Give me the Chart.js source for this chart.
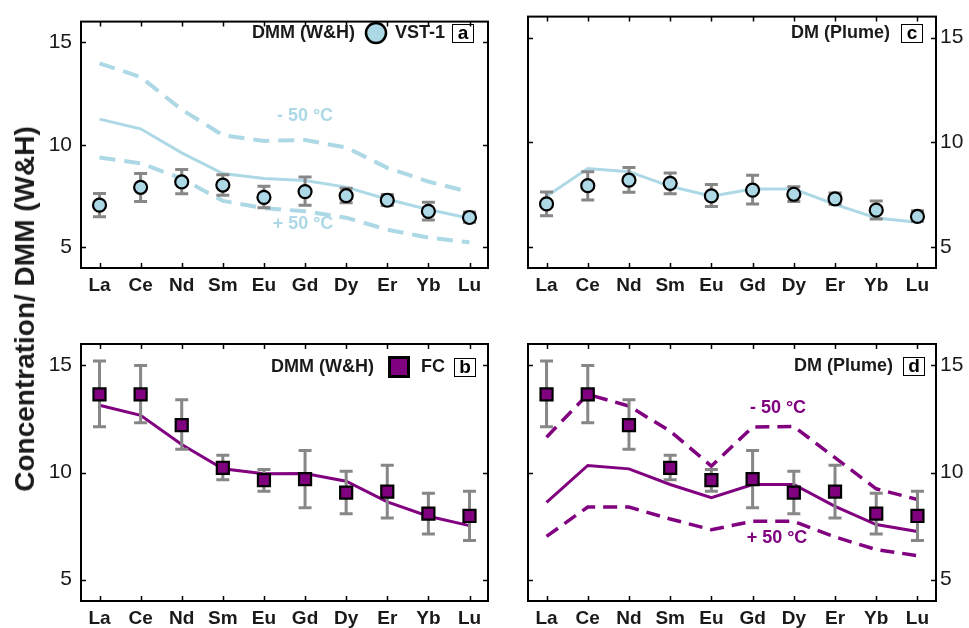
<!DOCTYPE html>
<html><head><meta charset="utf-8">
<script src="https://cdn.jsdelivr.net/npm/chart.js@4.4.1/dist/chart.umd.min.js"></script>
<style>
html,body{margin:0;padding:0;background:#fff;width:969px;height:628px;overflow:hidden;}
.p{position:absolute;}
#ytitle{position:absolute;left:25px;top:309px;transform:translate(-50%,-50%) rotate(-90deg);font:bold 28px "Liberation Sans",Arial,sans-serif;line-height:28px;white-space:nowrap;color:#1a1a1a;}
</style></head><body>
<div class="p" style="left:0;top:0;"><canvas id="ca" width="500" height="310"></canvas></div>
<div class="p" style="left:500px;top:0;"><canvas id="cc" width="469" height="310"></canvas></div>
<div class="p" style="left:0;top:310px;"><canvas id="cb" width="500" height="318"></canvas></div>
<div class="p" style="left:500px;top:310px;"><canvas id="cd" width="469" height="318"></canvas></div>
<div id="ytitle">Concentration/ DMM (W&amp;H)</div>
<script>
// ---- data ----
const elements = ['La','Ce','Nd','Sm','Eu','Gd','Dy','Er','Yb','Lu'];
const yTicks = [5, 10, 15];
const vst1     = [7.06, 7.93, 8.19, 8.04, 7.44, 7.72, 7.52, 7.30, 6.76, 6.46];
const vst1Low  = [6.50, 7.24, 7.62, 7.54, 6.93, 7.06, 7.18, 7.04, 6.34, 6.23];
const vst1High = [7.63, 8.60, 8.80, 8.54, 7.98, 8.43, 7.88, 7.58, 7.20, 6.73];
const fc       = [13.65, 13.65, 12.21, 10.22, 9.64, 9.69, 9.06, 9.11, 8.08, 7.97];
const fcLow    = [12.14, 12.32, 11.08, 9.66, 9.13, 8.35, 8.07, 7.88, 7.13, 6.82];
const fcHigh   = [15.21, 15.00, 13.40, 10.80, 10.14, 11.03, 10.06, 10.34, 9.03, 9.13];
const dmmVst        = [11.25, 10.78, 9.61, 8.60, 8.36, 8.26, 7.94, 7.35, 6.85, 6.42];
const dmmVstMinus50 = [13.97, 13.30, 11.71, 10.47, 10.19, 10.23, 9.87, 8.88, 8.21, 7.70];
const dmmVstPlus50  = [9.38, 9.10, 8.36, 7.27, 6.92, 6.76, 6.45, 5.87, 5.48, 5.25];
const plumeVst      = [7.43, 8.75, 8.60, 7.90, 7.43, 7.77, 7.77, 7.04, 6.39, 6.18];
const dmmFc         = [13.14, 12.67, 11.31, 10.17, 9.94, 9.95, 9.59, 8.63, 7.96, 7.52];
const plumeFc       = [8.61, 10.33, 10.17, 9.44, 8.82, 9.44, 9.44, 8.42, 7.57, 7.25];
const plumeFcMinus50= [11.65, 13.65, 13.10, 11.93, 10.30, 12.12, 12.15, 10.69, 9.24, 8.74];
const plumeFcPlus50 = [7.02, 8.39, 8.39, 7.83, 7.33, 7.72, 7.72, 6.99, 6.40, 6.12];

const FONT = '"Liberation Sans", Arial, sans-serif';
const BLUE = '#add8e6';
const PURPLE = '#800080';
const TXT = '#1a1a1a';

function pts(arr){ return arr.map((v,i)=>({x:i,y:v})); }

function makePanel(id, cfg){
  const datasets = [{
    data: pts(cfg.points), showLine:false,
    pointStyle: cfg.pointStyle, pointRadius: cfg.pointRadius,
    pointBackgroundColor: cfg.pointColor, pointBorderColor:'#000', pointBorderWidth:2.2,
    errLow: cfg.low, errHigh: cfg.high
  }];
  cfg.lines.forEach(l => datasets.push({
    data: pts(l.values), borderColor: l.color, borderWidth: l.width,
    borderDash: l.dash || [], pointRadius:0, tension:0, fill:false
  }));
  const deco = {
    id:'deco_'+id,
    beforeDatasetDraw(chart, args){
      if (args.index !== 0) return;
      const ds = chart.data.datasets[0], xs = chart.scales.x, ys = chart.scales.y, c = chart.ctx;
      c.save(); c.strokeStyle = '#878787'; c.lineWidth = 3; c.lineCap='butt';
      ds.errLow.forEach((lo,i)=>{
        const px = xs.getPixelForValue(i), p1 = ys.getPixelForValue(lo), p2 = ys.getPixelForValue(ds.errHigh[i]);
        c.beginPath();
        c.moveTo(px,p1); c.lineTo(px,p2);
        c.moveTo(px-6.5,p1); c.lineTo(px+6.5,p1);
        c.moveTo(px-6.5,p2); c.lineTo(px+6.5,p2);
        c.stroke();
      });
      c.restore();
    },
    afterDraw(chart){
      const a = chart.chartArea, c = chart.ctx, xs = chart.scales.x, ys = chart.scales.y;
      c.save();
      c.strokeStyle = '#000'; c.lineWidth = 1.5;
      xs.ticks.forEach(t=>{ const px = Math.round(xs.getPixelForValue(t.value))+0.5;
        c.beginPath(); c.moveTo(px,a.top); c.lineTo(px,a.top+5); c.moveTo(px,a.bottom); c.lineTo(px,a.bottom-5); c.stroke(); });
      ys.ticks.forEach(t=>{ const py = Math.round(ys.getPixelForValue(t.value))+0.5;
        c.beginPath(); c.moveTo(a.left,py); c.lineTo(a.left+5,py); c.moveTo(a.right,py); c.lineTo(a.right-5,py); c.stroke(); });
      c.lineWidth = 2;
      c.strokeRect(a.left, a.top, a.right-a.left, a.bottom-a.top);
      // texts
      c.textBaseline = 'middle';
      cfg.texts.forEach(t=>{
        c.font = 'bold 18px ' + FONT; c.fillStyle = t.color || TXT; c.textAlign = t.align || 'left';
        c.fillText(t.text, t.x, t.y);
      });
      // legend marker
      if (cfg.marker){
        const m = cfg.marker;
        c.fillStyle = m.color; c.strokeStyle = '#000';
        if (m.shape === 'circle'){ c.lineWidth = 2.5; c.beginPath(); c.arc(m.x, m.y, 10, 0, Math.PI*2); c.fill(); c.stroke(); }
        else { c.lineWidth = 3; c.beginPath(); c.rect(m.x-9.5, m.y-9.5, 19, 19); c.fill(); c.stroke(); }
      }
      // letter box
      const b = cfg.box;
      c.lineWidth = 1; c.strokeStyle = '#000';
      c.strokeRect(b.x+0.5, b.y-8.5, 21, 18);
      c.font = 'bold 19px ' + FONT; c.fillStyle = '#000'; c.textAlign = 'center';
      c.fillText(b.letter, b.x+11, b.y+1);
      c.restore();
    }
  };
  new Chart(document.getElementById(id), {
    type:'line',
    data:{ datasets },
    options:{
      responsive:false, animation:false, events:[],
      layout:{ padding: cfg.padding },
      plugins:{ legend:{display:false}, tooltip:{enabled:false} },
      scales:{
        x:{ type:'linear', min:-0.45, max:9.45,
            grid:{display:false, drawTicks:false}, border:{display:false},
            afterBuildTicks: s => { s.ticks = elements.map((_,i)=>({value:i})); },
            afterFit: s => { s.height = cfg.xHeight; },
            ticks:{ callback: v => elements[v], font:{family:FONT, size:19, weight:'bold'}, color:TXT, padding:6, maxRotation:0, autoSkip:false } },
        y:{ type:'linear', position: cfg.yPos, min:4, max:16,
            grid:{display:false, drawTicks:false}, border:{display:false},
            afterBuildTicks: s => { s.ticks = yTicks.map(v=>({value:v})); },
            afterFit: s => { s.width = cfg.yWidth; },
            ticks:{ font:{family:FONT, size:21}, color:TXT, padding: cfg.yPos==='left' ? 9 : 4 } }
      }
    },
    plugins:[deco]
  });
}

makePanel('ca', {
  points: vst1, low: vst1Low, high: vst1High, pointStyle:'circle', pointRadius:6.5, pointColor: BLUE,
  lines: [
    {values: dmmVst, color: BLUE, width: 3},
    {values: dmmVstMinus50, color: BLUE, width: 4, dash:[16,9]},
    {values: dmmVstPlus50, color: BLUE, width: 4, dash:[16,9]}
  ],
  padding:{left:0, top:12, right:12, bottom:0}, yPos:'left', yWidth:81, xHeight:42,
  texts:[
    {text:'DMM (W&H)', x:355, y:33, align:'right'},
    {text:'VST-1', x:395, y:33},
    {text:'- 50 °C', x:305, y:116, align:'center', color: BLUE},
    {text:'+ 50 °C', x:303, y:224, align:'center', color: BLUE}
  ],
  marker:{shape:'circle', x:376, y:33, color: BLUE},
  box:{x:452, y:33, letter:'a'}
});
makePanel('cc', {
  points: vst1, low: vst1Low, high: vst1High, pointStyle:'circle', pointRadius:6.5, pointColor: BLUE,
  lines: [ {values: plumeVst, color: BLUE, width: 3} ],
  padding:{left:28, top:12, right:0, bottom:0}, yPos:'right', yWidth:33, xHeight:42,
  texts:[ {text:'DM (Plume)', x:390, y:33, align:'right'} ],
  box:{x:401, y:33, letter:'c'}
});
makePanel('cb', {
  points: fc, low: fcLow, high: fcHigh, pointStyle:'rect', pointRadius:8.5, pointColor: PURPLE,
  lines: [ {values: dmmFc, color: PURPLE, width: 3} ],
  padding:{left:0, top:34, right:12, bottom:0}, yPos:'left', yWidth:81, xHeight:27,
  texts:[
    {text:'DMM (W&H)', x:374, y:57, align:'right'},
    {text:'FC', x:421, y:57}
  ],
  marker:{shape:'rect', x:399, y:57, color: PURPLE},
  box:{x:454, y:57, letter:'b'}
});
makePanel('cd', {
  points: fc, low: fcLow, high: fcHigh, pointStyle:'rect', pointRadius:8.5, pointColor: PURPLE,
  lines: [
    {values: plumeFc, color: PURPLE, width: 3},
    {values: plumeFcMinus50, color: PURPLE, width: 3.5, dash:[14,8]},
    {values: plumeFcPlus50, color: PURPLE, width: 3.5, dash:[14,8]}
  ],
  padding:{left:28, top:34, right:0, bottom:0}, yPos:'right', yWidth:33, xHeight:27,
  texts:[
    {text:'DM (Plume)', x:393, y:56, align:'right'},
    {text:'- 50 °C', x:278, y:98, align:'center', color: PURPLE},
    {text:'+ 50 °C', x:277, y:228, align:'center', color: PURPLE}
  ],
  box:{x:403, y:56, letter:'d'}
});
</script>
</body></html>
